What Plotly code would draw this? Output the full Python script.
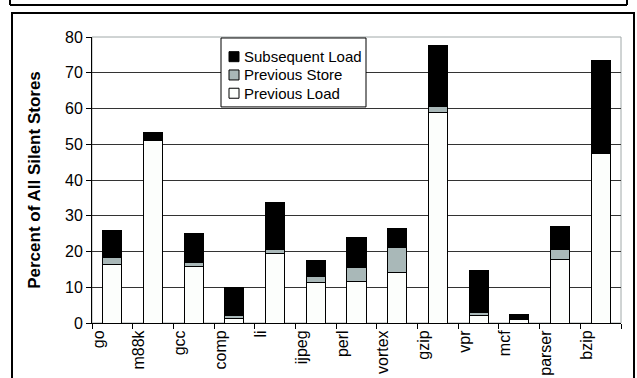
import plotly.graph_objects as go

categories = ["go", "m88k", "gcc", "comp", "li", "ijpeg", "perl", "vortex",
              "gzip", "vpr", "mcf", "parser", "bzip"]
previous_load = [16.5, 51.0, 15.9, 1.3, 19.5, 11.2, 11.6, 14.1, 59.0, 2.2, 1.0, 17.7, 47.3]
previous_store = [1.8, 0.2, 0.9, 0.8, 1.2, 1.7, 3.8, 7.1, 1.6, 0.6, 0.1, 2.8, 0.3]
subsequent_load = [7.5, 2.1, 8.3, 7.8, 13.0, 4.7, 8.5, 5.3, 16.9, 11.8, 1.2, 6.4, 25.9]
y_ticks = [0, 10, 20, 30, 40, 50, 60, 70, 80]

W, H = 637, 378
L, R, T, B = 92, 621, 37, 323.3
FONT = "Liberation Sans, Arial, sans-serif"


def px(x):
    return (x - L) / (R - L)


def py(y):
    return (B - y) / (B - T)


fig = go.Figure()
series = [
    ("Previous Load", previous_load, "#FCFEFC"),
    ("Previous Store", previous_store, "#A9B8B8"),
    ("Subsequent Load", subsequent_load, "#000000"),
]
for name, vals, col in series:
    fig.add_trace(go.Bar(
        x=categories, y=vals, name=name, showlegend=False,
        marker=dict(color=col, line=dict(color="#000000", width=1)),
    ))

shapes = [
    # plot area border (top/right in gray)
    dict(type="rect", xref="paper", yref="paper", x0=0, x1=1, y0=0, y1=1,
         line=dict(color="#A0A8A8", width=1), layer="below"),
    # previous figure frame remnant at top
    dict(type="line", xref="paper", yref="paper", x0=px(10), x1=px(627), y0=py(5), y1=py(5),
         line=dict(color="#000000", width=2)),
    dict(type="line", xref="paper", yref="paper", x0=px(10), x1=px(10), y0=py(-2), y1=py(5),
         line=dict(color="#000000", width=2)),
    dict(type="line", xref="paper", yref="paper", x0=px(627), x1=px(627), y0=py(-2), y1=py(5),
         line=dict(color="#000000", width=2)),
    # outer frame of this figure
    dict(type="rect", xref="paper", yref="paper", x0=px(12), x1=px(634), y0=py(13), y1=py(390),
         line=dict(color="#000000", width=2)),
    # legend box
    dict(type="rect", xref="paper", yref="paper", x0=px(221), x1=px(366), y0=py(38), y1=py(107),
         fillcolor="white", line=dict(color="#000000", width=1)),
]
annotations = []
for i, (name, vals, col) in enumerate(reversed(series)):
    yc = 56.7 + 18.3 * i
    shapes.append(dict(type="rect", xref="paper", yref="paper",
                       x0=px(229), x1=px(239), y0=py(yc + 5), y1=py(yc - 5),
                       fillcolor=col, line=dict(color="#000000", width=1)))
    annotations.append(dict(xref="paper", yref="paper", x=px(242), y=py(yc),
                            xanchor="left", yanchor="middle", showarrow=False,
                            text=name, font=dict(family=FONT, size=15, color="#000000")))

fig.update_layout(
    width=W, height=H,
    margin=dict(l=L, r=W - R, t=T, b=H - B, pad=0),
    paper_bgcolor="white", plot_bgcolor="white",
    barmode="stack", bargap=0.53,
    font=dict(family=FONT, size=15, color="#000000"),
    showlegend=False,
    shapes=shapes,
    annotations=annotations,
)

fig.update_xaxes(
    type="category", tickson="boundaries", ticks="outside", ticklen=5,
    tickcolor="#000000", tickwidth=1,
    showline=True, linecolor="#000000", linewidth=1,
    showgrid=False, tickangle=-90, automargin=False,
    ticklabelshift=-14,
    tickfont=dict(family=FONT, size=16, color="#000000"),
)
fig.update_yaxes(
    range=[0, 80], tickvals=y_ticks, ticks="outside", ticklen=5,
    tickcolor="#000000", tickwidth=1,
    showline=True, linecolor="#000000", linewidth=1,
    showgrid=True, gridcolor="#333333", gridwidth=1, zeroline=False,
    automargin=False,
    tickfont=dict(family=FONT, size=16, color="#000000"),
    title=dict(text="<b>Percent of All Silent Stores</b>", standoff=20,
               font=dict(family=FONT, size=17, color="#000000")),
)

fig.write_html("out.html")
